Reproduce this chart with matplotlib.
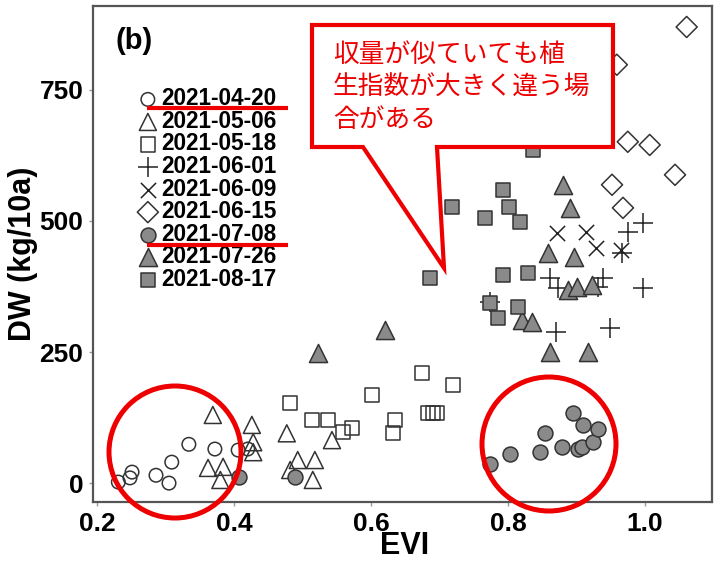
import matplotlib
matplotlib.use("Agg")
import matplotlib.pyplot as plt
from matplotlib.patches import Ellipse, Polygon
from matplotlib.lines import Line2D

# EVI / DW per survey date
evi_0420 = [0.231, 0.248, 0.251, 0.286, 0.305, 0.309, 0.334, 0.372, 0.406, 0.420]
dw_0420 = [2, 10, 21, 15, 0, 40, 74, 65, 63, 65]

evi_0506 = [0.369, 0.426, 0.428, 0.428, 0.362, 0.384, 0.380, 0.477, 0.493, 0.518, 0.515, 0.543, 0.482]
dw_0506 = [130, 111, 78, 59, 29, 31, 6, 95, 44, 44, 6, 82, 25]

evi_0518 = [0.482, 0.514, 0.537, 0.559, 0.572, 0.601, 0.635, 0.632, 0.674, 0.720, 0.683, 0.690, 0.696]
dw_0518 = [153, 120, 120, 97, 105, 168, 120, 95, 210, 187, 134, 134, 134]

evi_0601 = [0.997, 0.975, 0.966, 0.861, 0.873, 0.939, 0.931, 0.997, 0.870, 0.949, 0.774]
dw_0601 = [496, 479, 439, 391, 372, 391, 374, 372, 288, 296, 345]

evi_0609 = [0.871, 0.914, 0.928, 0.965]
dw_0609 = [477, 479, 449, 445]

evi_0615 = [1.061, 0.959, 0.975, 1.007, 1.044, 0.952, 0.968]
dw_0615 = [870, 798, 651, 645, 588, 569, 525]

evi_0708 = [0.774, 0.803, 0.847, 0.854, 0.879, 0.902, 0.908, 0.895, 0.910, 0.924, 0.931, 0.407, 0.489]
dw_0708 = [36, 55, 59, 95, 69, 65, 69, 133, 110, 78, 104, 11, 11]

evi_0726 = [0.880, 0.890, 0.858, 0.896, 0.888, 0.901, 0.923, 0.820, 0.835, 0.861, 0.917, 0.523, 0.620]
dw_0726 = [569, 525, 439, 431, 368, 374, 378, 311, 307, 250, 250, 248, 292]

evi_0817 = [0.793, 0.801, 0.818, 0.766, 0.793, 0.829, 0.774, 0.815, 0.785, 0.836, 0.718, 0.686]
dw_0817 = [559, 527, 498, 506, 397, 401, 343, 336, 315, 636, 527, 391]

dates = ["2021-04-20", "2021-05-06", "2021-05-18", "2021-06-01", "2021-06-09",
         "2021-06-15", "2021-07-08", "2021-07-26", "2021-08-17"]
callout_lines = ["収量が似ていても植", "生指数が大きく違う場", "合がある"]

W, H = 717, 562
fig = plt.figure(figsize=(W / 100, H / 100), dpi=100)
ax = fig.add_axes([93 / W, 1 - 502 / H, 619 / W, 496 / H])

edge = "#333333"
grey = "#8a8a8a"
series = [
    (evi_0420, dw_0420, dict(marker="o", s=95, facecolors="none", edgecolors=edge)),
    (evi_0506, dw_0506, dict(marker="^", s=150, facecolors="none", edgecolors=edge)),
    (evi_0518, dw_0518, dict(marker="s", s=105, facecolors="none", edgecolors=edge)),
    (evi_0601, dw_0601, dict(marker="+", s=220, color="#222222")),
    (evi_0609, dw_0609, dict(marker="x", s=120, color="#222222")),
    (evi_0615, dw_0615, dict(marker="D", s=115, facecolors="none", edgecolors=edge)),
    (evi_0708, dw_0708, dict(marker="o", s=115, facecolors=grey, edgecolors=edge)),
    (evi_0726, dw_0726, dict(marker="^", s=170, facecolors=grey, edgecolors=edge)),
    (evi_0817, dw_0817, dict(marker="s", s=105, facecolors=grey, edgecolors=edge)),
]
handles = []
for (x, y, kw), lab in zip(series, dates):
    h = ax.scatter(x, y, linewidths=1.1, label=lab, zorder=3, **kw)
    handles.append(h)

ax.set_xlim(0.194, 1.098)
ax.set_ylim(-36, 910)
ax.set_xticks([0.2, 0.4, 0.6, 0.8, 1.0])
ax.set_xticklabels(["0.2", "0.4", "0.6", "0.8", "1.0"])
ax.set_yticks([0, 250, 500, 750])

tick_font = dict(family="Liberation Sans", weight="bold", size=19)
for lab in ax.get_xticklabels() + ax.get_yticklabels():
    lab.set_fontproperties(tick_font)
ax.tick_params(direction="out", length=3, width=1, color="#999999", pad=4)
for sp in ax.spines.values():
    sp.set_color("#555555")
    sp.set_linewidth(1.6)

ax.set_xlabel("EVI", fontfamily="Liberation Sans", fontweight="bold", fontsize=22)
ax.set_ylabel("DW (kg/10a)", fontfamily="Liberation Sans", fontweight="bold", fontsize=22)
ax.xaxis.set_label_coords(0.504, -0.058)
ax.yaxis.set_label_coords(-0.089, 0.5)

ax.text(0.036, 0.957, "(b)", transform=ax.transAxes, fontfamily="Liberation Sans",
        fontweight="bold", fontsize=21, va="top", ha="left")

ax.legend(handles=handles, loc="upper left", bbox_to_anchor=(0.074, 0.836),
          frameon=False, borderpad=0, borderaxespad=0, handlelength=0.8,
          handletextpad=0.2, labelspacing=-0.02,
          prop=dict(family="Liberation Sans", weight="bold", size=16.3))


def fp(x, y):
    return (x / W, 1 - y / H)


red = "#ee0000"
# underlines under two legend entries
for yy in (108, 245):
    (x0, y0), (x1, y1) = fp(147, yy), fp(288, yy)
    fig.add_artist(Line2D([x0, x1], [y0, y1], color=red, lw=3, solid_capstyle="butt"))

# circles around low-yield clusters
for cx, cy, r in ((175, 452, 66), (549, 444, 67)):
    fig.add_artist(Ellipse(fp(cx, cy), 2 * r / W, 2 * r / H, transform=fig.transFigure,
                           fill=False, edgecolor=red, lw=3.6))

# speech bubble
pts = [fp(312, 25), fp(613, 25), fp(613, 147), fp(437, 147), fp(444, 268),
       fp(363, 147), fp(312, 147)]
fig.add_artist(Polygon(pts, closed=True, transform=fig.transFigure, facecolor="white",
                       edgecolor=red, lw=3, joinstyle="miter"))
for i, line in enumerate(callout_lines):
    x, y = fp(333, 56 + 32 * i)
    fig.text(x, y, line, color=red, fontsize=18.5, va="center", ha="left",
             family=["Noto Sans CJK JP", "DejaVu Sans"], zorder=5)

fig.savefig("out.png", dpi=100)
